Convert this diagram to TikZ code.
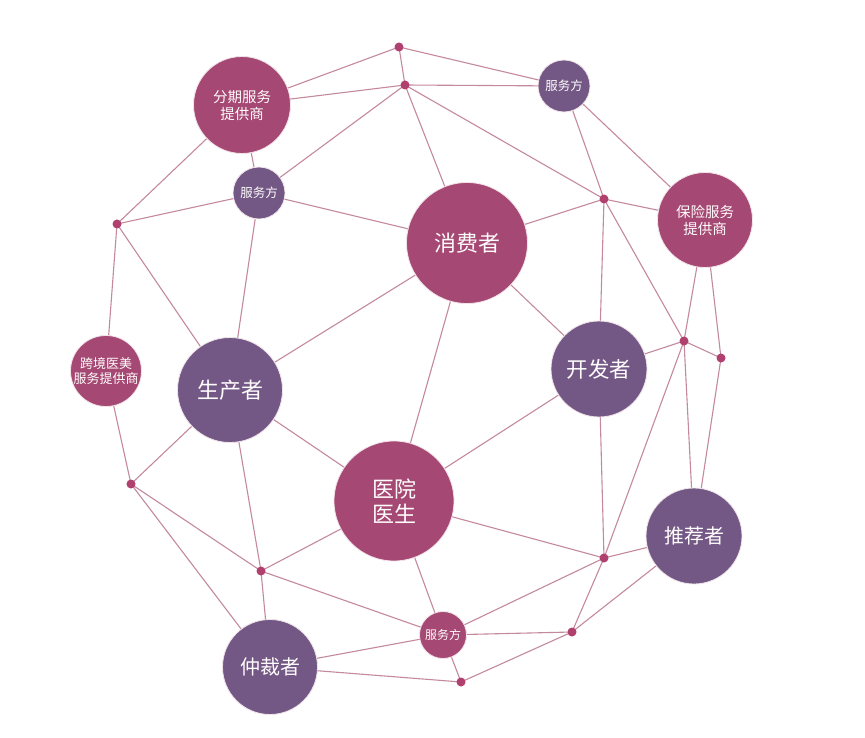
\documentclass[tikz,border=0pt]{standalone}
\usepackage{fontspec}
\usetikzlibrary{backgrounds}
\newfontfamily\cjk{Noto Sans CJK SC}
\definecolor{mag}{HTML}{A54873}
\definecolor{pur}{HTML}{735886}
\definecolor{edge}{HTML}{C4899D}
\definecolor{dotc}{HTML}{B0406E}
\begin{document}
\begin{tikzpicture}[x=1pt,y=-1pt,
  hub/.style={circle,draw=white!85!mag,line width=0.8pt,inner sep=0pt,text=white!95!pink,font=\cjk,align=center},
  hm/.style={hub,fill=mag},
  hp/.style={hub,fill=pur},
  dot/.style={circle,fill=dotc,inner sep=0pt,minimum size=9pt},
  link/.style={draw=edge,line width=1.1pt}]
\useasboundingbox (0,0) rectangle (865,738);
% dots
\node[dot] (d1) at (399,47) {};
\node[dot] (d2) at (405,85) {};
\node[dot] (d3) at (117,224) {};
\node[dot] (d4) at (604,199) {};
\node[dot] (d5) at (684,341) {};
\node[dot] (d6) at (721,358) {};
\node[dot] (d7) at (131,484) {};
\node[dot] (d8) at (261,571) {};
\node[dot] (d9) at (604,558) {};
\node[dot] (d10) at (572,632) {};
\node[dot] (d11) at (461,682) {};
% hubs
\node[hm,minimum size=97pt,font=\cjk\fontsize{14.5}{17}\selectfont] (fq) at (242,105) {分期服务\\提供商};
\node[hp,minimum size=52pt,font=\cjk\fontsize{12.5}{14}\selectfont] (s1) at (259,193) {服务方};
\node[hp,minimum size=52pt,font=\cjk\fontsize{12.5}{14}\selectfont] (s2) at (564,86) {服务方};
\node[hm,minimum size=121pt,font=\cjk\fontsize{22}{26}\selectfont] (xf) at (467,243) {消费者};
\node[hm,minimum size=95pt,font=\cjk\fontsize{14.5}{17}\selectfont] (bx) at (705,220) {保险服务\\提供商};
\node[hp,minimum size=105pt,font=\cjk\fontsize{22}{26}\selectfont] (sc) at (230,390) {生产者};
\node[hm,minimum size=71pt,font=\cjk\fontsize{13}{15}\selectfont] (kj) at (106,371) {跨境医美\\服务提供商};
\node[hp,minimum size=96pt,font=\cjk\fontsize{21.5}{25}\selectfont] (kf) at (599,369) {开发者};
\node[hp,minimum size=96pt,font=\cjk\fontsize{20}{24}\selectfont] (tj) at (694,536) {推荐者};
\node[hm,minimum size=120pt,font=\cjk\fontsize{22}{25}\selectfont] (yy) at (394,501) {医院\\医生};
\node[hp,minimum size=95pt,font=\cjk\fontsize{20}{24}\selectfont] (zc) at (270,667) {仲裁者};
\node[hm,minimum size=47pt,font=\cjk\fontsize{12}{14}\selectfont] (s3) at (443,635) {服务方};
% edges
\begin{scope}[on background layer]
\fill[white] (0,0) rectangle (865,738);
\foreach \a/\b in {d1/fq,d2/fq,d1/d2,d1/s2,d2/s2,d2/s1,d2/xf,d2/d4,
  fq/s1,fq/d3,s1/d3,s1/xf,s1/sc,d3/kj,d3/sc,
  s2/d4,s2/bx,d4/xf,d4/bx,d4/kf,d4/d5,bx/d5,bx/d6,
  xf/kf,xf/yy,kf/d5,d5/d6,d5/tj,d6/tj,d5/d9,kf/d9,kf/yy,yy/d9,d9/tj,
  sc/xf,sc/yy,sc/d7,kj/d7,sc/d8,
  d7/d8,d7/zc,d8/yy,d8/zc,d8/s3,yy/s3,zc/s3,zc/d11,s3/d11,
  s3/d9,s3/d10,d11/d10,d9/d10,d10/tj}
  \draw[link] (\a.center) -- (\b.center);
\end{scope}
\end{tikzpicture}
\end{document}
